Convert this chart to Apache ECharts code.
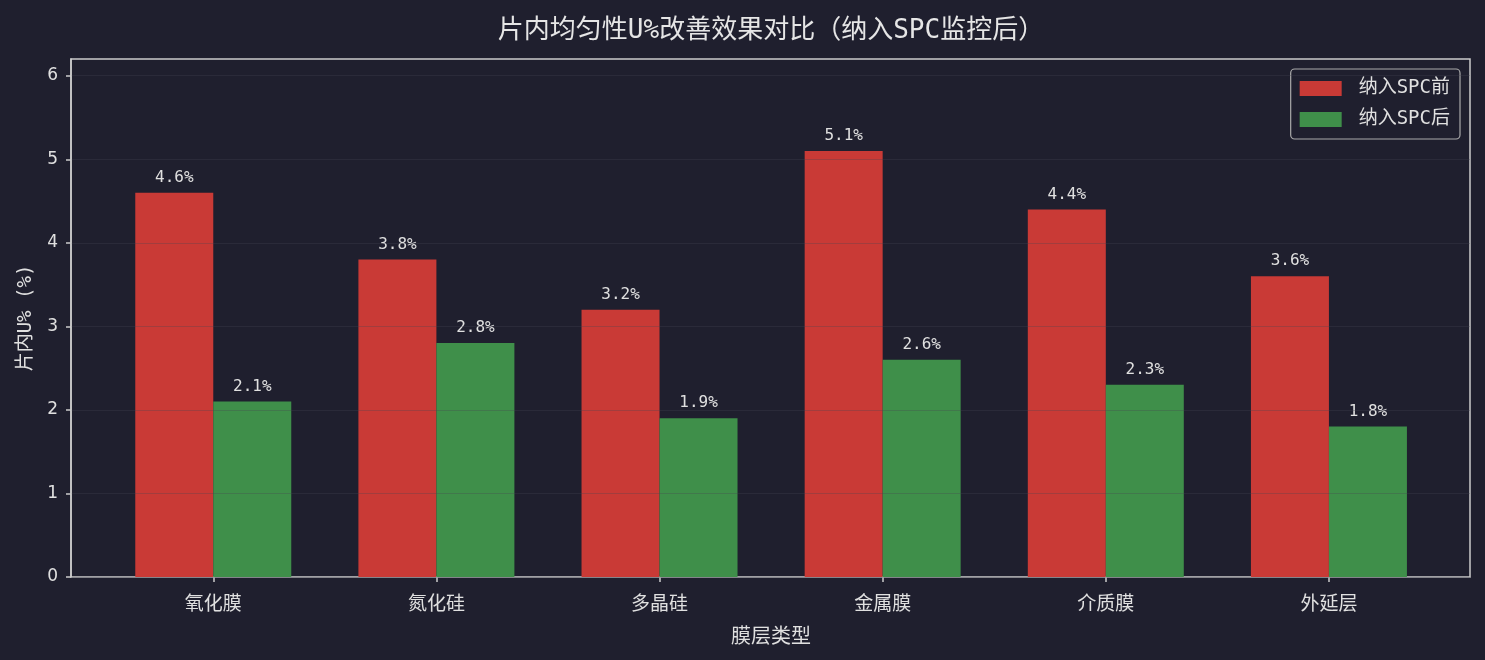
<!DOCTYPE html>
<html>
<head>
<meta charset="utf-8">
<script src="https://cdn.jsdelivr.net/npm/echarts@6/dist/echarts.min.js"></script>
<style>
  html, body { margin: 0; padding: 0; background: #1f1f2e; }
  #chart { width: 1485px; height: 660px; }
</style>
</head>
<body>
<div id="chart"></div>
<script>
var categories = ['氧化膜', '氮化硅', '多晶硅', '金属膜', '介质膜', '外延层'];
var seriesNames = ['纳入SPC前', '纳入SPC后'];
var beforeValues = [4.6, 3.8, 3.2, 5.1, 4.4, 3.6];
var afterValues = [2.1, 2.8, 1.9, 2.6, 2.3, 1.8];
var yTicks = [0, 1, 2, 3, 4, 5, 6];

var cjk = '"Noto Sans CJK SC", "DejaVu Sans", sans-serif';
var monoCjk = '"DejaVu Sans Mono", "Noto Sans CJK SC", monospace';
var dom = document.getElementById('chart');
var myChart = echarts.init(dom, null, { renderer: 'canvas' });

var labelStyle = {
    show: true,
    position: 'top',
    distance: 7,
    color: '#e0e0e0',
    fontSize: 16,
    fontFamily: '"DejaVu Sans Mono", monospace',
    formatter: function (p) { return p.value.toFixed(1) + '%'; }
};

var option = {
    backgroundColor: '#1f1f2e',
    animation: false,
    title: {
        text: '片内均匀性U%改善效果对比（纳入SPC监控后）',
        left: 766,
        textAlign: 'center',
        top: 13,
        textStyle: { color: '#e6e6e6', fontSize: 26, fontWeight: 'normal', fontFamily: monoCjk }
    },
    legend: {
        data: seriesNames,
        orient: 'vertical',
        right: 25,
        top: 69,
        icon: 'rect',
        itemWidth: 42,
        itemHeight: 15,
        itemGap: 12,
        padding: [10, 10, 10, 9],
        borderColor: '#aaaaaa',
        borderWidth: 1.2,
        borderRadius: 4,
        backgroundColor: '#1f1f2e',
        textStyle: { color: '#e0e0e0', fontSize: 19, fontFamily: monoCjk, padding: [0, 0, 0, 12] }
    },
    grid: [
        { left: 71, right: 15, top: 59, bottom: 83, show: true, borderColor: '#cccccc', borderWidth: 1.5, backgroundColor: 'transparent' },
        { left: 101.7, right: 44.5, top: 59, bottom: 83 }
    ],
    xAxis: [
        { gridIndex: 0, type: 'category', data: categories, show: false },
        {
            gridIndex: 1,
            type: 'category',
            data: categories,
            name: '膜层类型',
            nameLocation: 'middle',
            nameGap: 48,
            nameTextStyle: { color: '#e0e0e0', fontSize: 20, fontFamily: cjk },
            axisLine: { show: false },
            axisTick: { show: true, alignWithLabel: true, length: 5, lineStyle: { color: '#cccccc', width: 1.5 } },
            axisLabel: { color: '#e0e0e0', fontSize: 19, fontFamily: cjk, margin: 16 }
        }
    ],
    yAxis: [
        {
            gridIndex: 0,
            type: 'value',
            min: yTicks[0],
            max: 6.2,
            interval: 1,
            z: 5,
            name: '片内U% (%)',
            nameLocation: 'middle',
            nameGap: 35,
            nameTextStyle: { color: '#e0e0e0', fontSize: 19, fontFamily: monoCjk },
            axisLine: { show: true, lineStyle: { color: '#cccccc', width: 1.5 } },
            axisTick: { show: true, length: 5, lineStyle: { color: '#cccccc', width: 1.5 } },
            axisLabel: { color: '#e0e0e0', fontSize: 17, fontFamily: '"DejaVu Sans", sans-serif', margin: 13, showMaxLabel: false },
            splitLine: { show: true, showMaxLine: false, lineStyle: { color: 'rgba(68,68,82,0.3)', width: 1.2 } }
        },
        { gridIndex: 1, type: 'value', min: 0, max: 6.2, show: false }
    ],
    series: [
        {
            name: seriesNames[0],
            type: 'bar',
            xAxisIndex: 1,
            yAxisIndex: 1,
            data: beforeValues,
            barWidth: 78,
            barGap: '0%',
            itemStyle: { color: '#c93a36' },
            label: labelStyle
        },
        {
            name: seriesNames[1],
            type: 'bar',
            xAxisIndex: 1,
            yAxisIndex: 1,
            data: afterValues,
            barWidth: 78,
            barGap: '0%',
            itemStyle: { color: '#3f8f4a' },
            label: labelStyle
        }
    ]
};

myChart.setOption(option);
window.addEventListener('resize', myChart.resize);
</script>
</body>
</html>
